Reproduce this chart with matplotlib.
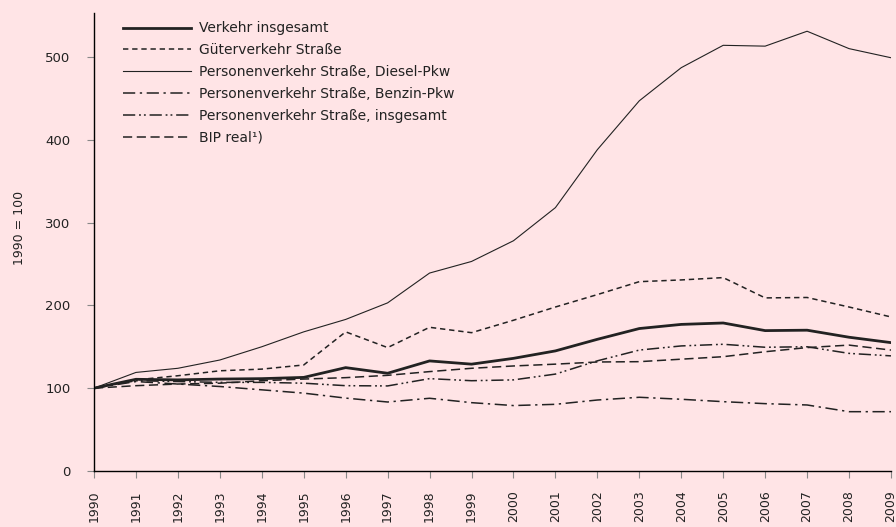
import matplotlib.pyplot as plt

years = list(range(1990, 2010))

verkehr_gesamt = [100, 110.7, 110, 111, 111.5, 113, 124.8, 118, 132.9, 129,
                  136, 145, 159, 172, 177, 178.7, 169.5, 170, 161.5, 155]
gueterverkehr = [100, 110, 115, 121, 123, 128, 168, 149, 173.5, 167,
                 182, 198, 213, 228.6, 230.7, 233.5, 209, 209.5, 198, 186]
diesel_pkw = [100, 119, 124, 134, 150, 168, 183, 203, 239, 253,
              278, 318, 388, 447, 487, 514, 513, 531, 510, 499]
benzin_pkw = [100, 108, 105, 102, 98, 94, 88, 83.3, 87.8, 82.5,
              79, 80.5, 85.7, 89, 86.6, 83.7, 81.3, 79.7, 71.6, 71.6]
pv_gesamt = [100, 109, 108, 107, 107, 106, 103, 102.7, 111.5, 109,
             110, 117, 133, 146, 151, 153, 149.4, 150, 142, 139]
bip_real = [100, 103, 105, 106, 109, 111, 112.7, 115.5, 120, 124,
            126.8, 129, 131.6, 132, 135, 138, 144, 149, 152, 146]

labels = ["Verkehr insgesamt", "Güterverkehr Straße",
          "Personenverkehr Straße, Diesel-Pkw",
          "Personenverkehr Straße, Benzin-Pkw",
          "Personenverkehr Straße, insgesamt", "BIP real¹)"]

bg = "#ffe4e6"
ink = "#222222"
plt.rcParams['font.family'] = ['DejaVu Sans']

fig = plt.figure(figsize=(8.96, 5.27), dpi=100, facecolor=bg)
ax = fig.add_axes([0.1049, 0.1063, 0.8895, 0.869])
ax.set_facecolor(bg)

ax.plot(years, verkehr_gesamt, color=ink, lw=2.0, ls="-", label=labels[0])
ax.plot(years, gueterverkehr, color=ink, lw=1.1, ls=(0, (3.5, 2.5)), label=labels[1])
ax.plot(years, diesel_pkw, color=ink, lw=0.8, ls="-", label=labels[2])
ax.plot(years, benzin_pkw, color=ink, lw=1.1, ls=(0, (8, 3, 1.5, 3)), label=labels[3])
ax.plot(years, pv_gesamt, color=ink, lw=1.1, ls=(0, (8, 2.5, 1.2, 2, 1.2, 2.5)), label=labels[4])
ax.plot(years, bip_real, color=ink, lw=1.1, ls=(0, (6, 3)), label=labels[5])

ax.set_xlim(1990, 2009)
ax.set_ylim(0, 553)
ax.set_xticks(years)
ax.set_xticklabels([str(y) for y in years], rotation=90, fontsize=9, color=ink)
ax.set_yticks([0, 100, 200, 300, 400, 500])
ax.tick_params(axis='y', labelsize=9.5, labelcolor=ink, color="#888888", length=5, pad=12)
ax.tick_params(axis='x', color="#888888", length=5, pad=9)
ax.set_ylabel("1990 = 100", fontsize=9, color=ink)
ax.yaxis.set_label_coords(-0.085, 0.53)

for s in ["top", "right"]:
    ax.spines[s].set_visible(False)
for s in ["left", "bottom"]:
    ax.spines[s].set_color("black")
    ax.spines[s].set_linewidth(1.0)

ax.legend(loc="upper left", bbox_to_anchor=(0.023, 1.006), frameon=False,
          fontsize=10, handlelength=4.85, handletextpad=0.57,
          labelspacing=0.57, borderaxespad=0.4, labelcolor=ink)

fig.savefig("out.png", dpi=100, facecolor=bg)
